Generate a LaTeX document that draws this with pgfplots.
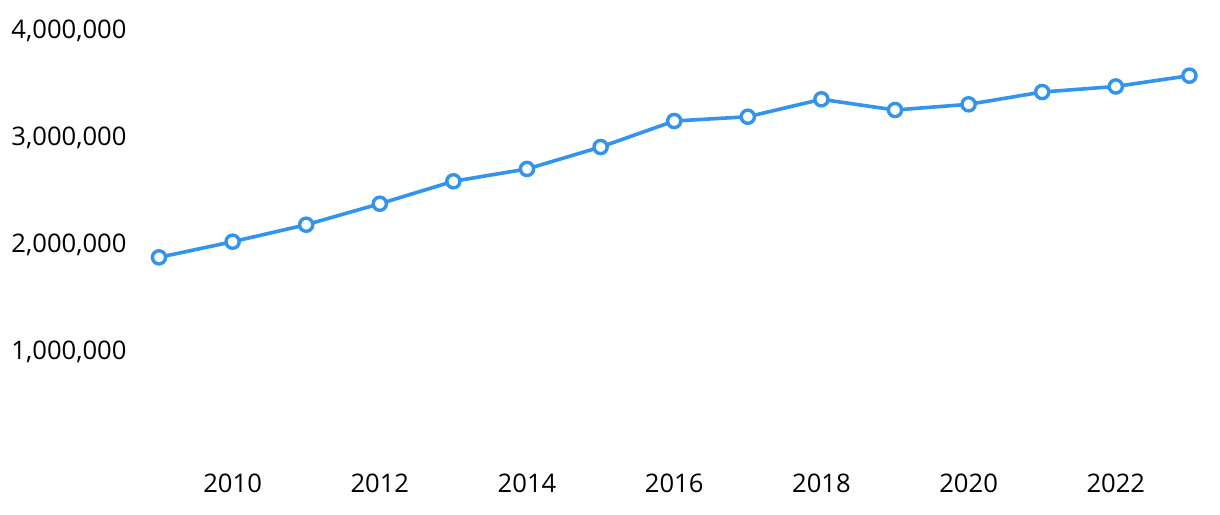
\documentclass[border=0pt]{standalone}
\usepackage{fontspec}
\setmainfont{Open Sans}
\usepackage{pgfplots}
\pgfplotsset{compat=1.18}
\definecolor{lineblue}{RGB}{50,148,236}

\begin{document}
\fontsize{12.8pt}{15pt}\selectfont
\begin{tikzpicture}
\begin{axis}[
  name=ax,
  scale only axis,
  width=515.2pt, height=214pt,
  xmin=2009, xmax=2023,
  ymin=0, ymax=4000000,
  clip=false,
  axis line style={draw=none},
  major tick length=0pt,
  scaled y ticks=false,
  xtick={2010,2012,2014,2016,2018,2020,2022},
  xticklabels={2010,2012,2014,2016,2018,2020,2022},
  ytick={1000000,2000000,3000000,4000000},
  yticklabels={{1,000,000},{2,000,000},{3,000,000},{4,000,000}},
  xticklabel style={yshift=-4pt},
  yticklabel style={xshift=-11.8pt, yshift=-1pt},
  tick label style={font=\fontsize{12.8pt}{15pt}\selectfont},
]
\addplot[lineblue, line width=1.8pt, mark=*, mark size=3.3pt,
  mark options={fill=white, draw=lineblue, line width=1.7pt}]
  coordinates {
  (2009,1866000)
  (2010,2012000)
  (2011,2171000)
  (2012,2367000)
  (2013,2577000)
  (2014,2692000)
  (2015,2897000)
  (2016,3140000)
  (2017,3180000)
  (2018,3343000)
  (2019,3243000)
  (2020,3296000)
  (2021,3411000)
  (2022,3463000)
  (2023,3564000)
  };
\end{axis}
\pgfresetboundingbox
\path (ax.south west) ++(-79.5pt,-28.5pt) rectangle ++(610pt,257pt);
\end{tikzpicture}
\end{document}
